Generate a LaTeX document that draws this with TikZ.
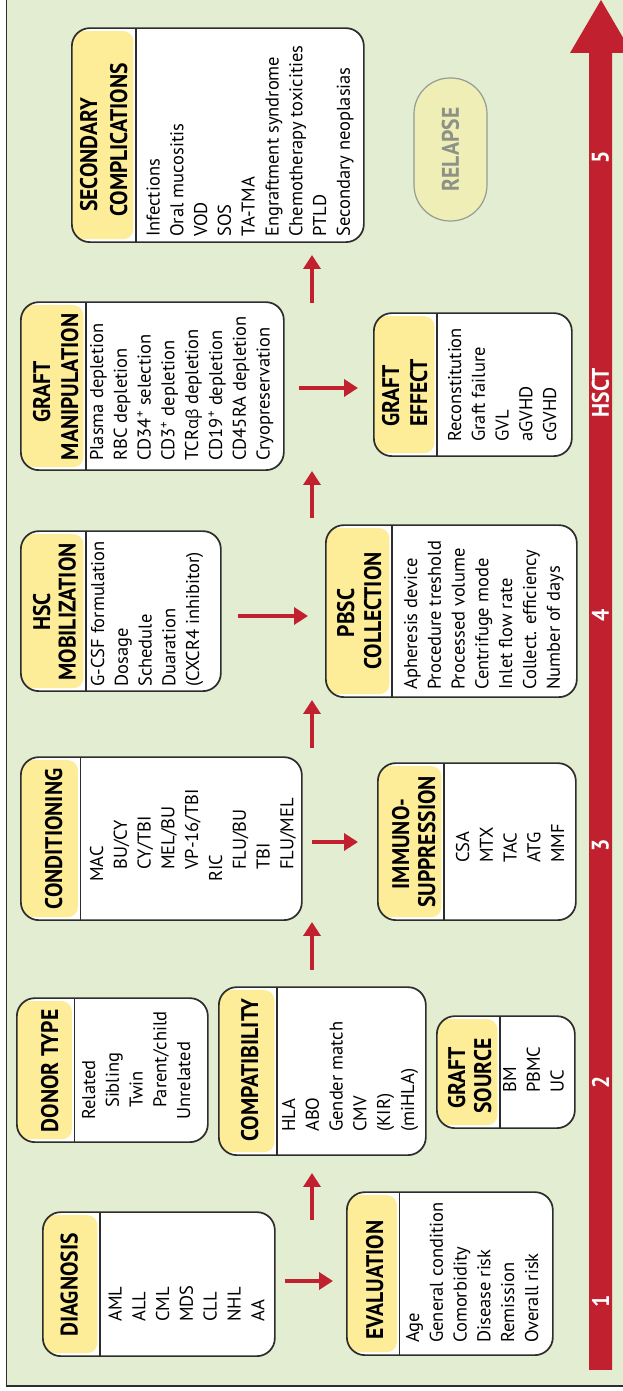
\documentclass[tikz,border=0pt]{standalone}
\usepackage{fontspec}
\setmainfont{PT Sans}
\newfontfamily\hfont{PT Sans}[FakeStretch=0.9]
\newfontfamily\grk{Open Sans}
\usetikzlibrary{arrows.meta}
\definecolor{bg}{RGB}{226,237,209}
\definecolor{hdr}{RGB}{253,236,152}
\definecolor{hsct}{RGB}{193,32,46}
\definecolor{bord}{RGB}{45,45,45}
\definecolor{rfill}{RGB}{238,238,182}
\definecolor{rtext}{RGB}{140,146,134}
\definecolor{rbord}{RGB}{150,155,148}

\newcommand\stagebox[6]{%
  \node[box, minimum width=#4pt, minimum height=#5pt,
    path picture={%
      \fill[hdr, rounded corners=10pt] ([xshift=-12pt,yshift=3pt]path picture bounding box.south west) rectangle ([xshift=#6pt-2.5pt,yshift=-3pt]path picture bounding box.north west);
      \draw[bord, line width=1.4pt] ([xshift=#6pt]path picture bounding box.south west) -- ([xshift=#6pt]path picture bounding box.north west);
    }] (#1) at (#2,#3) {};}
\newcommand\itemlist[5]{%
  \foreach \t [count=\i from 0] in {#5} {\node[itm] (#1-i\i) at (#2+\i*#4, #3) {\t};}}

\begin{document}
\begin{tikzpicture}[x=1pt,y=1pt,
  box/.style={draw=bord, line width=1.7pt, fill=white, rounded corners=18pt, inner sep=0pt, anchor=south west},
  itm/.style={rotate=90, anchor=base west, inner sep=0pt, font=\fontsize{18.5}{22}\selectfont},
  hd/.style={rotate=90, anchor=base, inner sep=0pt, font=\hfont\bfseries\fontsize{24}{28}\selectfont},
  hdw/.style={hd, anchor=base west},
  flow/.style={draw=hsct, line width=4.6pt, -{Triangle[length=14pt,width=17pt]}},
  lbl/.style={rotate=90, text=white, font=\hfont\bfseries\fontsize{24}{26}\selectfont, inner sep=0pt}
]
\useasboundingbox (0,0) rectangle (623,1391);
\fill[white] (0,0) rectangle (623,1391);
\fill[bg] (6.5,5) rectangle (623,1391);
\draw[bord, line width=1.4pt] (6.5,1391) -- (6.5,5) -- (623,5);

% main HSCT arrow
\fill[hsct] (589,21) -- (612,21) -- (612,1338) -- (632,1338) -- (601,1391) -- (570,1338) -- (589,1338) -- cycle;
\node[lbl] (l1) at (600.5,90) {1};
\node[lbl] (l2) at (600.5,309) {2};
\node[lbl] (l3) at (600.5,546) {3};
\node[lbl] (l4) at (600.5,776) {4};
\node[lbl] (l5) at (600.5,998) {HSCT};
\node[lbl] (l6) at (600.5,1234) {5};

% boxes
\stagebox{dg}{42}{34}{232}{144}{57}
\node[hd] (dg-h) at (77.5,106) {DIAGNOSIS};
\itemlist{dg}{121.5}{69}{23.8}{AML,ALL,CML,MDS,CLL,NHL,AA}

\stagebox{ev}{346}{35}{206}{163}{52.5}
\node[hd] (ev-h) at (383,111) {EVALUATION};
\itemlist{ev}{419}{48}{23.8}{Age,General condition,Comorbidity,Disease risk,Remission,Overall risk}

\stagebox{dt}{16}{248}{191}{144}{57.5}
\node[hd] (dt-h) at (58,320) {DONOR TYPE};
\itemlist{dt}{95}{271}{23.8}{Related,{\hspace*{12pt}Sibling},{\hspace*{12pt}Twin},{\hspace*{12pt}Parent/child},Unrelated}

\stagebox{cp}{218}{235}{207}{168}{58}
\node[hd] (cp-h) at (258,321) {COMPATIBILITY};
\itemlist{cp}{295}{259}{23.8}{HLA,ABO,Gender match,CMV,(KIR),(miHLA)}

\stagebox{gs}{436}{262}{138}{112}{63}
\node[hd] (gs-h1) at (465,313) {GRAFT};
\node[hd] (gs-h2) at (491,315) {SOURCE};
\itemlist{gs}{516}{298}{23.8}{BM,PBMC,UC}

\stagebox{cd}{20}{470}{281}{163}{59.5}
\node[hd] (cd-h) at (62,552) {CONDITIONING};
\itemlist{cd}{103}{509}{23.8}{MAC,{\hspace*{12pt}BU/CY},{\hspace*{12pt}CY/TBI},{\hspace*{12pt}MEL/BU},{\hspace*{12pt}VP-16/TBI},RIC,{\hspace*{12pt}FLU/BU},{\hspace*{12pt}TBI},{\hspace*{12pt}FLU/MEL}}

\stagebox{im}{377}{470}{198}{157}{66}
\node[hd] (im-h1) at (409,547) {IMMUNO-};
\node[hd] (im-h2) at (435,549) {SUPPRESSION};
\itemlist{im}{469}{528}{23.8}{CSA,MTX,TAC,ATG,MMF}

\stagebox{hm}{20}{699}{200}{160}{65}
\node[hd] (hm-h1) at (50,779) {HSC};
\node[hd] (hm-h2) at (75.5,779) {MOBILIZATION};
\itemlist{hm}{104}{704}{23.8}{G-CSF formulation,Dosage,Schedule,Duaration,(CXCR4 inhibitor)}

\stagebox{pc}{325}{693}{251}{172}{66}
\node[hd] (pc-h1) at (354,778) {PBSC};
\node[hd] (pc-h2) at (381,780) {COLLECTION};
\itemlist{pc}{417}{701}{23.8}{Apheresis device,Procedure treshold,Processed volume,Centrifuge mode,Inlet flow rate,Collect. efficiency,Number of days}

\stagebox{gm}{20}{920}{263}{168}{65}
\node[hd] (gm-h1) at (50,999) {GRAFT};
\node[hd] (gm-h2) at (78,1004) {MANIPULATION};
\itemlist{gm}{103}{930}{23.8}{Plasma depletion,RBC depletion,CD34\textsuperscript{+} selection,CD3\textsuperscript{+} depletion,TCR{\grk\fontsize{16.5}{20}\selectfont αβ} depletion,CD19\textsuperscript{+} depletion,CD45RA depletion,Cryopreservation}

\stagebox{ge}{373}{934}{198}{143}{63}
\node[hdw] (ge-h1) at (399,964) {GRAFT};
\node[hdw] (ge-h2) at (427,964) {EFFECT};
\itemlist{ge}{461}{949}{23.8}{Reconstitution,Graft failure,GVL,aGVHD,cGVHD}

\stagebox{sec}{71}{1148}{292}{214}{64}
\node[hdw] (sec-h1) at (97,1179) {SECONDARY};
\node[hdw] (sec-h2) at (127,1174) {COMPLICATIONS};
\itemlist{sec}{159.5}{1154}{23.8}{Infections,Oral mucositis,VOD,SOS,TA-TMA,Engraftment syndrome,Chemotherapy toxicities,PTLD,Secondary neoplasias}

\node[rotate=90, draw=rbord, fill=rfill, line width=1.2pt, rounded corners=36pt,
  minimum width=143pt, minimum height=73pt, inner sep=0pt, text=rtext,
  font=\hfont\bfseries\fontsize{24}{28}\selectfont] (rel) at (450.5,1241.5) {RELAPSE};

% flow arrows
\coordinate (h1) at (0,110);
\coordinate (h2) at (0,549);
\coordinate (h3) at (0,775);
\coordinate (h4) at (0,1003);
\draw[flow, shorten <=9pt, shorten >=13pt] (dg.east |- h1) -- (ev.west |- h1);
\draw[flow, shorten <=9pt, shorten >=19pt] (cd.east |- h2) -- (im.west |- h2);
\draw[flow, shorten <=16pt, shorten >=17pt] (hm.east |- h3) -- (pc.west |- h3);
\draw[flow, shorten <=14pt, shorten >=15pt] (gm.east |- h4) -- (ge.west |- h4);

\coordinate (v1) at (312,171);
\coordinate (v2) at (312,421);
\coordinate (v3) at (312,643);
\coordinate (v4) at (312,873);
\coordinate (v5) at (312,1088);
\draw[flow, shorten >=17pt] (v1) -- (v1 |- cp.south);
\draw[flow] (v2) -- ([yshift=-1pt]v2 |- cd.south);
\draw[flow, shorten >=2pt] (v3) -- (v3 |- pc.south);
\draw[flow] (v4) -- (v4 |- gm.south);
\draw[flow, shorten >=12pt] (v5) -- (v5 |- sec.south);
\end{tikzpicture}
\end{document}
